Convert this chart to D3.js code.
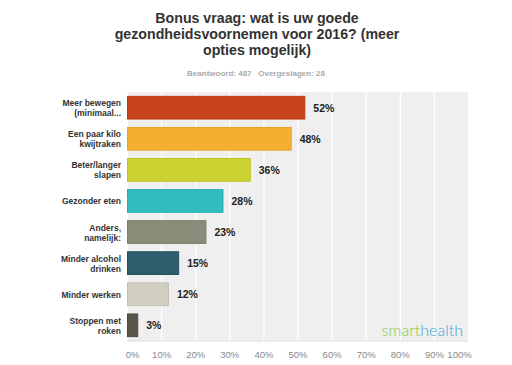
<!DOCTYPE html>
<html>
<head>
<meta charset="utf-8">
<script src="https://cdn.jsdelivr.net/npm/d3@7"></script>
<style>
  body { margin: 0; background: #fff; }
  svg { display: block; font-family: "Liberation Sans", Arial, sans-serif; }
</style>
</head>
<body>
<svg id="chart" width="512" height="365"></svg>
<script>
// data
const categories = [
	["Meer bewegen", "(minimaal..."],
	["Een paar kilo", "kwijtraken"],
	["Beter/langer", "slapen"],
	["Gezonder eten"],
	["Anders,", "namelijk:"],
	["Minder alcohol", "drinken"],
	["Minder werken"],
	["Stoppen met", "roken"]
]
const values = [52, 48, 36, 28, 23, 15, 12, 3]
const colors = ["#c9441c", "#f5ae31", "#ccd22f", "#31bcbf", "#8a8b79", "#2e5e6d", "#d0cfc1", "#58574a"]
const strokes = ["#b93a14", "#e9a024", "#bdc223", "#26aeb1", "#7c7d6c", "#234f5d", "#c2c1b2", "#4a493d"]
const ticks = [0, 10, 20, 30, 40, 50, 60, 70, 80, 90, 100]
const titleLines = ["Bonus vraag: wat is uw goede", "gezondheidsvoornemen voor 2016? (meer", "opties mogelijk)"]

const svg = d3.select("#chart")
const plot = {left: 127, right: 468, top: 92, bottom: 341}

// title
svg.append("g").selectAll("text")
	.data(titleLines)
	.join("text")
	.attr("x", 257)
	.attr("y", (d, i) => 23 + i * 16)
	.attr("text-anchor", "middle")
	.style("font-size", "14.2px")
	.style("font-weight", "bold")
	.style("fill", "#333")
	.text(d => d)

svg.append("text")
	.attr("x", 256)
	.attr("y", 76)
	.attr("text-anchor", "middle")
	.style("font-size", "8px")
	.style("font-weight", "bold")
	.style("fill", "#aaa")
	.attr("xml:space", "preserve")
	.text("Beantwoord: 487   Overgeslagen: 28")

const x = d3.scaleLinear().domain([0, 100]).range([plot.left, plot.right])
const y = d3.scaleBand().domain(d3.range(values.length)).range([plot.top, plot.bottom]).paddingInner(0.27).paddingOuter(0.14)

// background + grid
svg.append("rect")
	.attr("x", plot.left).attr("y", plot.top)
	.attr("width", plot.right - plot.left).attr("height", plot.bottom - plot.top)
	.style("fill", "#efefef")

let xAxis = d3.axisBottom(x).tickValues(ticks).tickFormat(d => d + "%").tickSize(plot.bottom - plot.top)
let xAxisGroup = svg.append("g")
	.attr("transform", "translate(0," + plot.top + ")")
	.call(xAxis)
xAxisGroup.select(".domain").remove()
xAxisGroup.selectAll("line")
	.style("stroke", "#fff")
	.style("stroke-width", 1.2)
xAxisGroup.selectAll("text")
	.attr("dy", "1.45em")
	.attr("dx", d => d == 0 ? 5 : d == 100 ? -9 : 0)
	.style("font-size", "9.5px")
	.style("fill", "#888")
	.style("font-family", "\"Liberation Sans\", Arial, sans-serif")

svg.append("line")
	.attr("x1", plot.left).attr("x2", plot.right)
	.attr("y1", plot.bottom).attr("y2", plot.bottom)
	.style("stroke", "#ddd")

// bars
svg.append("g").selectAll("rect")
	.data(values)
	.join("rect")
	.attr("x", x(0) + 0.5)
	.attr("y", (d, i) => y(i))
	.attr("width", d => x(d) - x(0))
	.attr("height", y.bandwidth())
	.style("fill", (d, i) => colors[i])
	.style("stroke", (d, i) => strokes[i])
	.style("stroke-width", 1)

// value labels
svg.append("g").selectAll("text")
	.data(values)
	.join("text")
	.attr("x", d => x(d) + 9)
	.attr("y", (d, i) => y(i) + y.bandwidth() / 2 + 4)
	.style("font-size", "10.5px")
	.style("font-weight", "bold")
	.style("fill", "#222")
	.text(d => d + "%")

// category labels
const catG = svg.append("g").selectAll("text")
	.data(categories)
	.join("text")
	.attr("x", 121)
	.attr("y", (d, i) => y(i) + y.bandwidth() / 2 + 3.5 - (d.length - 1) * 5)
	.attr("text-anchor", "end")
	.style("font-size", "8.5px")
	.style("font-weight", "bold")
	.style("fill", "#333")
catG.selectAll("tspan")
	.data(d => d)
	.join("tspan")
	.attr("x", 121)
	.attr("dy", (d, i) => i ? 10 : 0)
	.text(d => d)

// logo
const logo = svg.append("text")
	.attr("x", 463)
	.attr("y", 336)
	.attr("text-anchor", "end")
	.style("font-size", "16px")
	.style("font-weight", 300)
	.style("font-family", "Lato, sans-serif")
logo.append("tspan").style("fill", "#8cc63f").text("smart")
logo.append("tspan").style("fill", "#3ba7d6").text("health")
</script>
</body>
</html>
